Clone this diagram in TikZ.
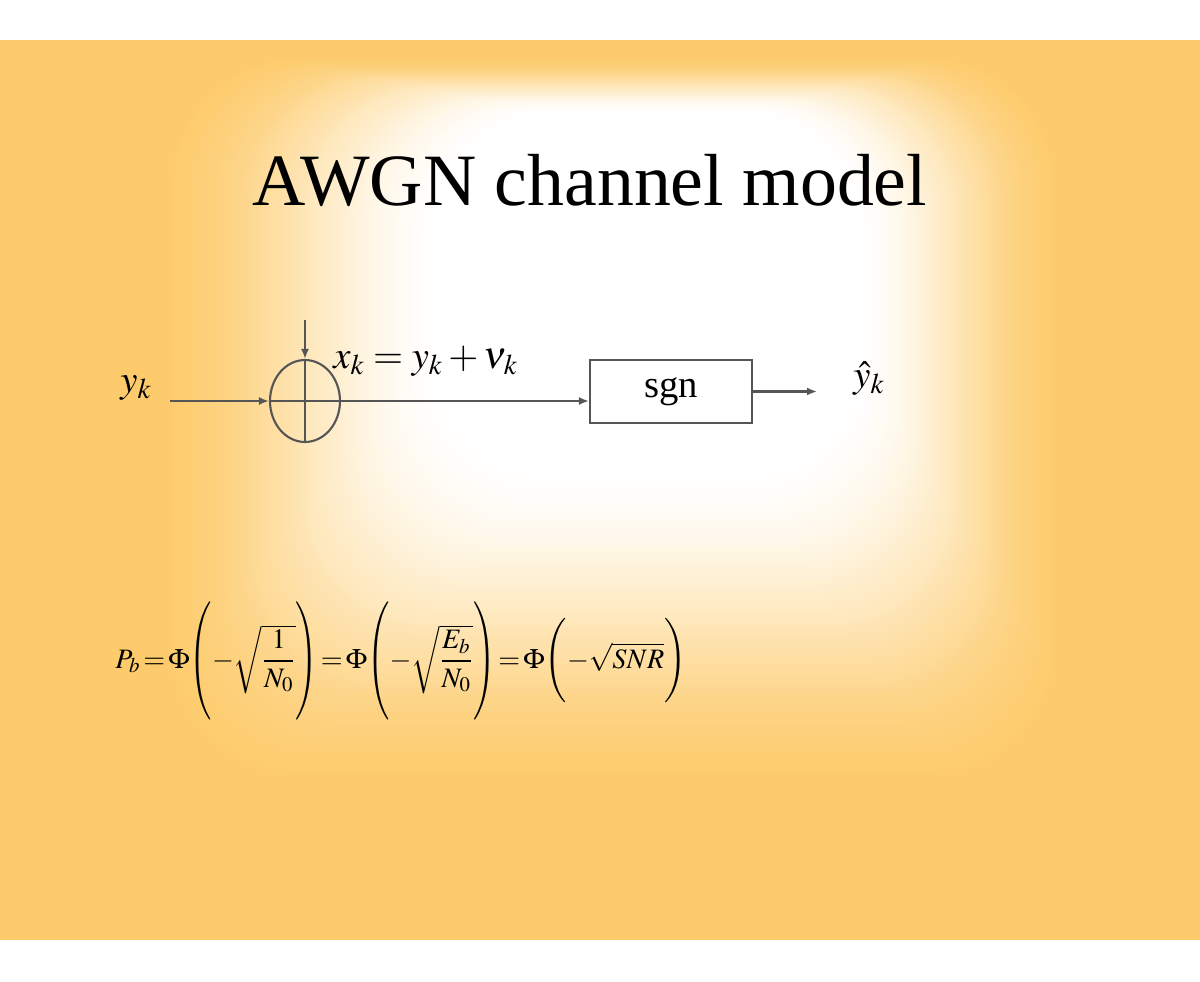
\documentclass[tikz,border=0pt]{standalone}
\usepackage{amsmath}
\usepackage{mathptmx}
\usepackage[no-math]{fontspec}
\setmainfont{Liberation Serif}
\usetikzlibrary{shapes.geometric,arrows.meta}

\definecolor{slideOr}{HTML}{FDCB6C}
\definecolor{lineGr}{HTML}{555555}

% tall round brackets for the error formula
\newcommand{\tallL}{\mathopen{\vcenter{\hbox{\scalebox{1}[1.4]{$\Biggl($}}}}}
\newcommand{\tallR}{\mathclose{\vcenter{\hbox{\scalebox{1}[1.4]{$\Biggr)$}}}}}

\tikzstyle{sumS}=[ellipse,minimum width = 1.4cm,minimum height = 1.64cm,inner sep = 0pt,draw=lineGr,line width=1.2pt]
\tikzstyle{blkS}=[rectangle,minimum width = 3.24cm,minimum height = 1.26cm,inner sep = 0pt,draw=lineGr,line width=1.2pt, font=\fontsize{22}{26}\selectfont]
\tikzstyle{lblS}=[inner sep = 0pt, font=\fontsize{22}{26}\selectfont]
\tikzstyle{sigS}=[line width=1.2pt,draw=lineGr,-{Latex[length=0.2cm,width=0.16cm]}]
\tikzstyle{wireS}=[line width=1.2pt,draw=lineGr]

\begin{document}
\begin{tikzpicture}[x=0.02cm,y=-0.02cm]
                \useasboundingbox (0,0) rectangle (1200,981);
                \fill[white] (0,0) rectangle (1200,981);
                % slide background with the pale glow
                \begin{scope}
                    \clip (0,40) rectangle (1200,940);
                    \fill[slideOr] (0,40) rectangle (1200,940);
                    \foreach \k in {0,...,70}{
                        \pgfmathsetmacro{\t}{\k/70}
                        \pgfmathtruncatemacro{\pc}{100*(1-\t*\t*(3-2*\t))}
                        \fill[slideOr!\pc!white, rounded corners=2.5cm]
                            ({150+300*\t},{55+60*\t}) rectangle ({1070-220*\t},{800-340*\t});
                    }
                \end{scope}
                \draw (590,205) node[anchor=base, font=\fontsize{42}{48}\selectfont] (title) {AWGN channel model};
                % block diagram
                \draw (305,401) node[sumS] (sum) {};
                \draw (671,391.5) node[blkS] (sgn) {sgn};
                \draw (120,392) node[lblS,anchor=base west] (yin) {$y_k$};
                \draw (333,368) node[lblS,anchor=base west] (xk) {$x_k = y_k + \nu_k$};
                \draw (853,387) node[lblS,anchor=base west] (yout) {$\hat{y}_k$};
                \coordinate (in) at (170,401);
                \coordinate (noise) at (305,320);
                \coordinate (out) at (817,391.5);
                \path
                    (in) edge[sigS] (sum.west)
                    (noise) edge[sigS] (sum.north)
                    (sum.north) edge[wireS] (sum.south)
                    (sum.west) edge[wireS] (sum.east)
                    (sum.east) edge[sigS] (sum.east -| sgn.west)
                    (sgn.east) edge[sigS] (out)
                ;
                % error probability
                \draw (115,668) node[lblS,anchor=base west,font=\fontsize{16}{20}\selectfont] (pb)
                    {$\thickmuskip=2mu \medmuskip=1mu
                      P_b=\Phi\tallL-\sqrt{\dfrac{1}{N_0}}\tallR=\Phi\tallL-\sqrt{\dfrac{E_b}{N_0}}\tallR=\Phi\Biggl(-\sqrt{SNR}\Biggr)$};
        \end{tikzpicture}
\end{document}
